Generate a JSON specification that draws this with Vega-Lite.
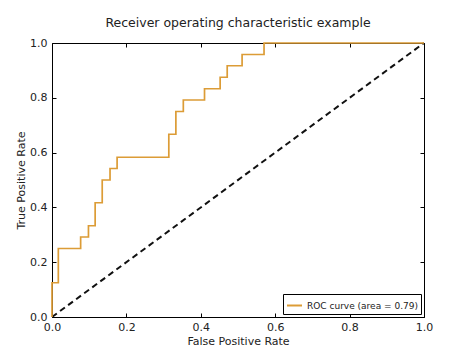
{
  "$schema": "https://vega.github.io/schema/vega-lite/v6.json",
  "width": 372,
  "height": 274,
  "autosize": "none",
  "padding": {"left": 52, "top": 43, "right": 43, "bottom": 41},
  "background": "white",
  "title": {
    "text": "Receiver operating characteristic example",
    "font": "DejaVu Sans",
    "fontSize": 12.5,
    "fontWeight": "normal",
    "color": "#222222",
    "offset": 8
  },
  "config": {
    "view": {"stroke": "black", "strokeWidth": 1},
    "axis": {
      "grid": false,
      "domain": false,
      "tickColor": "black",
      "tickSize": -4,
      "labelFlush": false,
      "labelFont": "DejaVu Sans",
      "labelFontSize": 11,
      "labelColor": "#222222",
      "titleFont": "DejaVu Sans",
      "titleFontSize": 11,
      "titleFontWeight": "normal",
      "titleColor": "#222222"
    },
    "legend": {
      "orient": "bottom-right",
      "offset": 3,
      "strokeColor": "black",
      "fillColor": "white",
      "padding": 3,
      "cornerRadius": 0,
      "labelFont": "DejaVu Sans",
      "labelFontSize": 9,
      "labelColor": "#222222",
      "symbolType": "stroke",
      "symbolSize": 225,
      "symbolStrokeWidth": 2
    }
  },
  "datasets": {
    "diag": [{"fpr": 0, "tpr": 0}, {"fpr": 1, "tpr": 1}],
    "roc": [
      {"i": 0, "fpr": 0.0, "tpr": 0.0, "series": "ROC curve (area = 0.79)"},
      {"i": 1, "fpr": 0.0, "tpr": 0.125, "series": "ROC curve (area = 0.79)"},
      {"i": 2, "fpr": 0.017, "tpr": 0.125, "series": "ROC curve (area = 0.79)"},
      {"i": 3, "fpr": 0.017, "tpr": 0.25, "series": "ROC curve (area = 0.79)"},
      {"i": 4, "fpr": 0.077, "tpr": 0.25, "series": "ROC curve (area = 0.79)"},
      {"i": 5, "fpr": 0.077, "tpr": 0.292, "series": "ROC curve (area = 0.79)"},
      {"i": 6, "fpr": 0.098, "tpr": 0.292, "series": "ROC curve (area = 0.79)"},
      {"i": 7, "fpr": 0.098, "tpr": 0.333, "series": "ROC curve (area = 0.79)"},
      {"i": 8, "fpr": 0.116, "tpr": 0.333, "series": "ROC curve (area = 0.79)"},
      {"i": 9, "fpr": 0.116, "tpr": 0.417, "series": "ROC curve (area = 0.79)"},
      {"i": 10, "fpr": 0.135, "tpr": 0.417, "series": "ROC curve (area = 0.79)"},
      {"i": 11, "fpr": 0.135, "tpr": 0.5, "series": "ROC curve (area = 0.79)"},
      {"i": 12, "fpr": 0.156, "tpr": 0.5, "series": "ROC curve (area = 0.79)"},
      {"i": 13, "fpr": 0.156, "tpr": 0.542, "series": "ROC curve (area = 0.79)"},
      {"i": 14, "fpr": 0.175, "tpr": 0.542, "series": "ROC curve (area = 0.79)"},
      {"i": 15, "fpr": 0.175, "tpr": 0.583, "series": "ROC curve (area = 0.79)"},
      {"i": 16, "fpr": 0.314, "tpr": 0.583, "series": "ROC curve (area = 0.79)"},
      {"i": 17, "fpr": 0.314, "tpr": 0.667, "series": "ROC curve (area = 0.79)"},
      {"i": 18, "fpr": 0.333, "tpr": 0.667, "series": "ROC curve (area = 0.79)"},
      {"i": 19, "fpr": 0.333, "tpr": 0.75, "series": "ROC curve (area = 0.79)"},
      {"i": 20, "fpr": 0.353, "tpr": 0.75, "series": "ROC curve (area = 0.79)"},
      {"i": 21, "fpr": 0.353, "tpr": 0.792, "series": "ROC curve (area = 0.79)"},
      {"i": 22, "fpr": 0.41, "tpr": 0.792, "series": "ROC curve (area = 0.79)"},
      {"i": 23, "fpr": 0.41, "tpr": 0.833, "series": "ROC curve (area = 0.79)"},
      {"i": 24, "fpr": 0.452, "tpr": 0.833, "series": "ROC curve (area = 0.79)"},
      {"i": 25, "fpr": 0.452, "tpr": 0.875, "series": "ROC curve (area = 0.79)"},
      {"i": 26, "fpr": 0.471, "tpr": 0.875, "series": "ROC curve (area = 0.79)"},
      {"i": 27, "fpr": 0.471, "tpr": 0.917, "series": "ROC curve (area = 0.79)"},
      {"i": 28, "fpr": 0.511, "tpr": 0.917, "series": "ROC curve (area = 0.79)"},
      {"i": 29, "fpr": 0.511, "tpr": 0.958, "series": "ROC curve (area = 0.79)"},
      {"i": 30, "fpr": 0.57, "tpr": 0.958, "series": "ROC curve (area = 0.79)"},
      {"i": 31, "fpr": 0.57, "tpr": 1.0, "series": "ROC curve (area = 0.79)"},
      {"i": 32, "fpr": 1.0, "tpr": 1.0, "series": "ROC curve (area = 0.79)"}
    ]
  },
  "layer": [
    {
      "data": {"name": "diag"},
      "mark": {"type": "line", "color": "#111111", "strokeWidth": 2, "strokeDash": [6, 4]},
      "encoding": {
        "x": {
          "field": "fpr", "type": "quantitative",
          "scale": {"domain": [0, 1], "nice": false, "zero": false},
          "axis": {"orient": "bottom", "title": "False Positive Rate", "values": [0, 0.2, 0.4, 0.6, 0.8, 1.0], "format": ".1f", "labelPadding": 8, "titlePadding": 3}
        },
        "y": {
          "field": "tpr", "type": "quantitative",
          "scale": {"domain": [0, 1], "nice": false, "zero": false},
          "axis": {"orient": "left", "title": "True Positive Rate", "values": [0, 0.2, 0.4, 0.6, 0.8, 1.0], "format": ".1f", "labelPadding": 9, "titlePadding": 3}
        }
      }
    },
    {
      "data": {"name": "roc"},
      "mark": {"type": "line", "strokeWidth": 1.7},
      "encoding": {
        "x": {"field": "fpr", "type": "quantitative", "axis": null},
        "y": {"field": "tpr", "type": "quantitative", "axis": null},
        "order": {"field": "i", "type": "quantitative"},
        "color": {
          "field": "series", "type": "nominal",
          "scale": {"range": ["#dc9c36"]},
          "legend": {"title": null}
        }
      }
    },
    {
      "data": {"name": "diag"},
      "mark": {"type": "point", "opacity": 0},
      "encoding": {
        "x": {
          "field": "fpr", "type": "quantitative",
          "axis": {"orient": "top", "title": null, "labels": false, "values": [0, 0.2, 0.4, 0.6, 0.8, 1.0]}
        },
        "y": {
          "field": "tpr", "type": "quantitative",
          "axis": {"orient": "right", "title": null, "labels": false, "values": [0, 0.2, 0.4, 0.6, 0.8, 1.0]}
        }
      }
    }
  ],
  "resolve": {"axis": {"x": "independent", "y": "independent"}}
}
